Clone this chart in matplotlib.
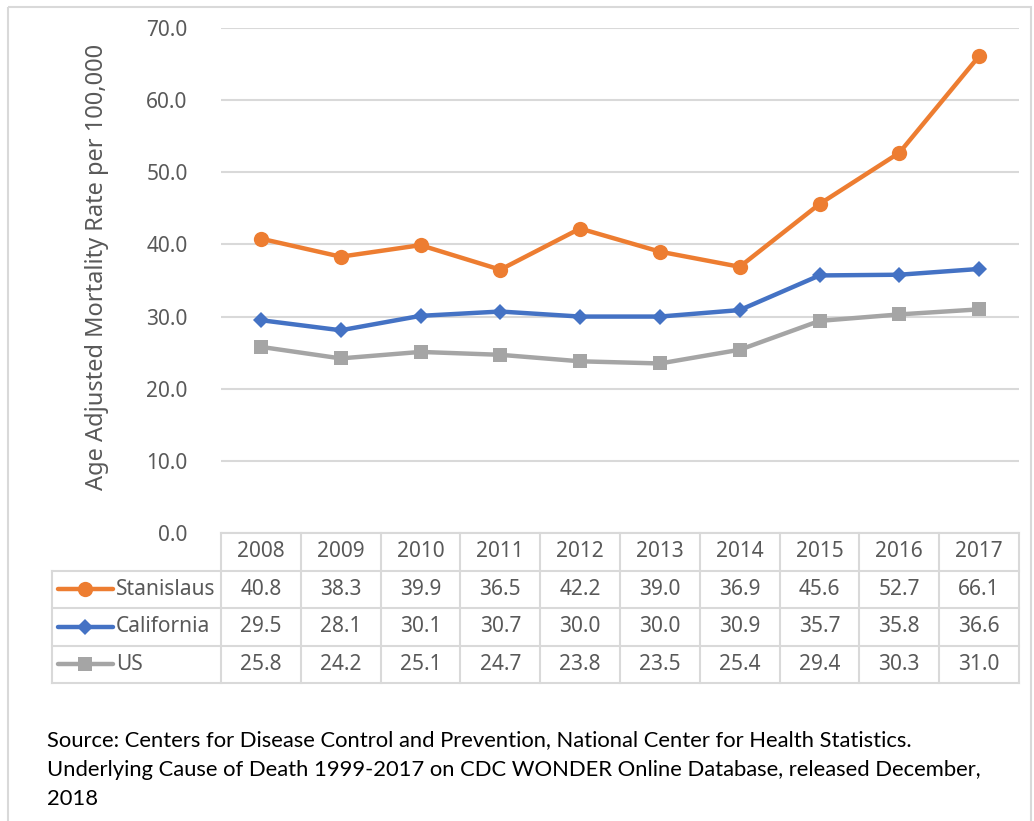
import matplotlib
matplotlib.use("Agg")
import matplotlib.pyplot as plt
from matplotlib.patches import Rectangle

years = ["2008", "2009", "2010", "2011", "2012", "2013", "2014", "2015", "2016", "2017"]
series_names = ["Stanislaus", "California", "US"]
stanislaus = [40.8, 38.3, 39.9, 36.5, 42.2, 39.0, 36.9, 45.6, 52.7, 66.1]
california = [29.5, 28.1, 30.1, 30.7, 30.0, 30.0, 30.9, 35.7, 35.8, 36.6]
us = [25.8, 24.2, 25.1, 24.7, 23.8, 23.5, 25.4, 29.4, 30.3, 31.0]
y_ticks = [0, 10, 20, 30, 40, 50, 60, 70]
y_label = "Age Adjusted Mortality Rate per 100,000"
source = ("Source: Centers for Disease Control and Prevention, National Center for Health Statistics.\n"
          "Underlying Cause of Death 1999-2017 on CDC WONDER Online Database, released December,\n"
          "2018")

colors = ["#ED7D31", "#4472C4", "#A5A5A5"]
markers = ["o", "D", "s"]
msizes = [11, 8, 10]
values = [stanislaus, california, us]

plt.rcParams["font.family"] = ["Noto Sans", "DejaVu Sans"]
W, H = 1034, 821
fig = plt.figure(figsize=(W / 100, H / 100), dpi=100)

def fx(px):
    return px / W

def fy(py):
    return 1 - py / H

grid_c = "#D9D9D9"
text_c = "#595959"
fs = 15

# outer chart border
border = fig.add_axes([0, 0, 1, 1], zorder=-5)
border.set_xlim(0, W)
border.set_ylim(H, 0)
border.axis("off")
border.add_patch(Rectangle((7.5, 7.5), 1023, 830, fill=False, edgecolor=grid_c, lw=1.5))

# main plot
x_left, x_right, y_top, y_bot = 221, 1019, 28, 533
ax = fig.add_axes([fx(x_left), fy(y_bot), fx(x_right) - fx(x_left), fy(y_top) - fy(y_bot)])
xs = list(range(len(years)))
for name, vals, c, m, ms in zip(series_names, values, colors, markers, msizes):
    ax.plot(xs, vals, color=c, lw=3.2, marker=m, markersize=ms, markeredgewidth=0,
            solid_joinstyle="round", zorder=3)
ax.set_xlim(-0.5, len(years) - 0.5)
ax.set_ylim(0, 70)
ax.set_yticks(y_ticks)
ax.set_yticklabels([f"{t:.1f}" for t in y_ticks])
ax.tick_params(axis="y", length=0, pad=24, labelsize=fs, labelcolor=text_c)
ax.set_xticks([])
for s in ax.spines.values():
    s.set_visible(False)
ax.grid(axis="y", color=grid_c, lw=1.5, zorder=0)
ax.set_axisbelow(True)
ax.set_ylabel(y_label, fontsize=17, color=text_c)
ax.yaxis.set_label_coords(-0.140, 0.527)

# data table below the plot
col_w = (x_right - x_left) / len(years)
leg_left = 52
row_tops = [533, 570.5, 608, 645.5, 683]
tax = fig.add_axes([fx(leg_left), fy(row_tops[-1]), fx(x_right) - fx(leg_left),
                    fy(row_tops[0]) - fy(row_tops[-1])])
leg_w_units = (x_left - leg_left) / col_w
tax.set_xlim(-0.5 - leg_w_units, len(years) - 0.5)
tax.set_ylim(4, 0)
tax.axis("off")
lw_t = 1.5
tax.plot([-0.5, len(years) - 0.5], [0, 0], color=grid_c, lw=lw_t, clip_on=False)
for r in range(1, 5):
    tax.plot([-0.5 - leg_w_units, len(years) - 0.5], [r, r], color=grid_c, lw=lw_t, clip_on=False)
tax.plot([-0.5 - leg_w_units] * 2, [1, 4], color=grid_c, lw=lw_t, clip_on=False)
for i in range(len(years) + 1):
    tax.plot([i - 0.5] * 2, [0, 4], color=grid_c, lw=lw_t, clip_on=False)
for i, yr in enumerate(years):
    tax.text(i, 0.5, yr, ha="center", va="center", fontsize=fs, color=text_c)
for r, (name, vals, c, m, ms) in enumerate(zip(series_names, values, colors, markers, msizes), start=1):
    for i, v in enumerate(vals):
        tax.text(i, r + 0.5, f"{v:.1f}", ha="center", va="center", fontsize=fs, color=text_c)
    lx0 = -0.5 - leg_w_units + 6 / col_w
    lx1 = lx0 + 55 / col_w
    tax.plot([lx0, lx1], [r + 0.5, r + 0.5], color=c, lw=3.2, solid_capstyle="round", clip_on=False)
    tax.plot([(lx0 + lx1) / 2], [r + 0.5], marker=m, color=c, markersize=ms, markeredgewidth=0,
             clip_on=False)
    tax.text(lx1 + 3 / col_w, r + 0.5, name, ha="left", va="center", fontsize=fs, color=text_c)

# source note
fig.text(fx(47), fy(730), source, ha="left", va="top", fontsize=15.8, color="#000000",
         family=["Lato", "DejaVu Sans"], linespacing=1.6)

fig.savefig("out.png", dpi=100)
